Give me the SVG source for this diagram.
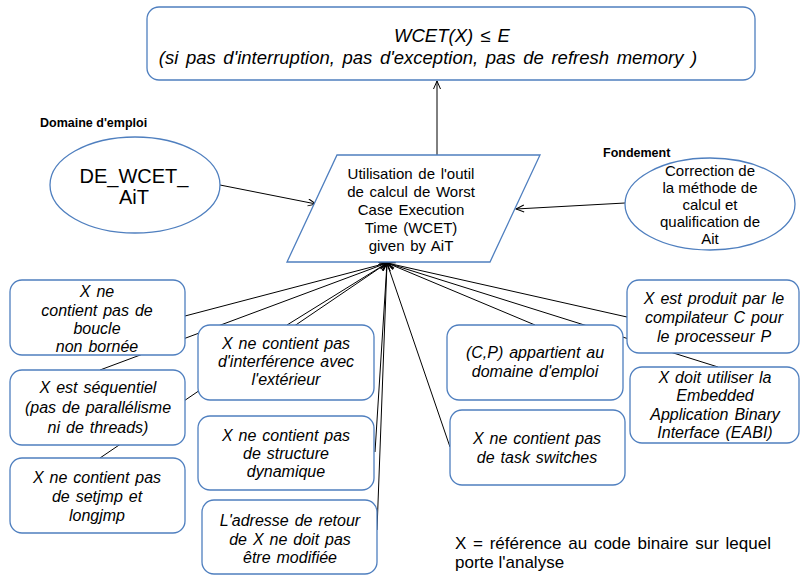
<svg xmlns="http://www.w3.org/2000/svg" width="800" height="575" viewBox="0 0 800 575">
<style>
.box{fill:#fff;stroke:#4f7fbf;stroke-width:1.3}
.t{font-family:"Liberation Sans",Arial,sans-serif;fill:#000}
.it{font-style:italic;font-size:16px;text-anchor:middle;word-spacing:1.5px}
.c{fill:none;stroke:#000;stroke-width:1}
.lbl{font-weight:bold;font-size:12.5px}
</style>
<defs>
<marker id="arr" markerUnits="userSpaceOnUse" markerWidth="12" markerHeight="12" refX="9" refY="4" orient="auto">
<path d="M1,0.5 L9,4 L1,7.5" fill="none" stroke="#000" stroke-width="1"/>
</marker>
</defs>
<rect width="800" height="575" fill="#fff"/>

<g id="connectors">
<line class="c" x1="437" y1="155" x2="437" y2="81" marker-end="url(#arr)"/>
<line class="c" x1="220" y1="185" x2="316" y2="204" marker-end="url(#arr)"/>
<line class="c" x1="625" y1="203" x2="516" y2="209" marker-end="url(#arr)"/>
<line class="c" x1="185" y1="316" x2="387" y2="263" marker-end="url(#arr)"/>
<line class="c" x1="100" y1="370" x2="387" y2="263" marker-end="url(#arr)"/>
<line class="c" x1="100" y1="458" x2="387" y2="263" marker-end="url(#arr)"/>
<line class="c" x1="287" y1="325" x2="387" y2="263" marker-end="url(#arr)"/>
<line class="c" x1="375" y1="452" x2="387" y2="263" marker-end="url(#arr)"/>
<line class="c" x1="377" y1="530" x2="387" y2="263" marker-end="url(#arr)"/>
<line class="c" x1="450" y1="447" x2="387" y2="263" marker-end="url(#arr)"/>
<line class="c" x1="535" y1="325" x2="387" y2="263" marker-end="url(#arr)"/>
<line class="c" x1="627" y1="317" x2="387" y2="263" marker-end="url(#arr)"/>
<line class="c" x1="718" y1="367" x2="387" y2="263" marker-end="url(#arr)"/>
</g>

<g id="top">
<rect class="box" x="147" y="7" width="608" height="73" rx="12"/>
<text class="t" x="452" y="42" font-size="18.5" font-style="italic" text-anchor="middle" word-spacing="2">WCET(X) ≤ E</text>
<text class="t" x="428" y="64" font-size="18.5" font-style="italic" text-anchor="middle" word-spacing="2.5">(si pas d'interruption, pas d'exception, pas de refresh memory )</text>
</g>

<g id="label-domaine">
<text class="t lbl" x="40" y="127">Domaine d'emploi</text>
</g>

<g id="de-wcet">
<ellipse class="box" cx="135" cy="185" rx="85" ry="48"/>
<text class="t" x="134" y="183" font-size="20" text-anchor="middle">DE_WCET_</text>
<text class="t" x="134" y="204" font-size="20" text-anchor="middle">AiT</text>
</g>

<g id="main">
<polygon class="box" points="337,155 540,155 490,262 287,262"/>
<g class="t" font-size="15" text-anchor="middle" word-spacing="1.5">
<text x="411" y="179">Utilisation de l'outil</text>
<text x="411" y="197">de calcul de Worst</text>
<text x="411" y="215">Case Execution</text>
<text x="411" y="233">Time (WCET)</text>
<text x="411" y="251">given by AiT</text>
</g>
</g>

<g id="label-fondement">
<text class="t lbl" x="603" y="157">Fondement</text>
</g>

<g id="correction">
<ellipse class="box" cx="710" cy="204" rx="85" ry="46"/>
<g class="t" font-size="15" text-anchor="middle">
<text x="710" y="176">Correction de</text>
<text x="710" y="193">la méthode de</text>
<text x="710" y="210">calcul et</text>
<text x="710" y="227">qualification de</text>
<text x="710" y="244">Ait</text>
</g>
</g>

<g id="n1">
<rect class="box" x="10" y="280" width="175" height="75" rx="12"/>
<text class="t it" x="97" y="297">X ne</text>
<text class="t it" x="97" y="316">contient pas de</text>
<text class="t it" x="97" y="334">boucle</text>
<text class="t it" x="97" y="352">non bornée</text>
</g>

<g id="n2">
<rect class="box" x="10" y="370" width="175" height="75" rx="12"/>
<text class="t it" x="98" y="393">X est séquentiel</text>
<text class="t it" x="98" y="413">(pas de parallélisme</text>
<text class="t it" x="98" y="433">ni de threads)</text>
</g>

<g id="n3">
<rect class="box" x="10" y="458" width="175" height="75" rx="12"/>
<text class="t it" x="97" y="483">X ne contient pas</text>
<text class="t it" x="97" y="502">de setjmp et</text>
<text class="t it" x="97" y="521">longjmp</text>
</g>

<g id="n4">
<rect class="box" x="198" y="325" width="176" height="75" rx="12"/>
<text class="t it" x="286" y="349">X ne contient pas</text>
<text class="t it" x="286" y="367">d'interférence avec</text>
<text class="t it" x="286" y="385">l'extérieur</text>
</g>

<g id="n5">
<rect class="box" x="198" y="416" width="176" height="74" rx="12"/>
<text class="t it" x="286" y="441">X ne contient pas</text>
<text class="t it" x="286" y="459">de structure</text>
<text class="t it" x="286" y="477">dynamique</text>
</g>

<g id="n6">
<rect class="box" x="202" y="500" width="175" height="74" rx="12"/>
<text class="t it" x="290" y="526">L'adresse de retour</text>
<text class="t it" x="290" y="545">de X ne doit pas</text>
<text class="t it" x="290" y="563">être modifiée</text>
</g>

<g id="n7">
<rect class="box" x="447" y="325" width="176" height="75" rx="12"/>
<text class="t it" x="535" y="358">(C,P) appartient au</text>
<text class="t it" x="535" y="377">domaine d'emploi</text>
</g>

<g id="n8">
<rect class="box" x="450" y="410" width="175" height="75" rx="12"/>
<text class="t it" x="537" y="444">X ne contient pas</text>
<text class="t it" x="537" y="463">de task switches</text>
</g>

<g id="n9">
<rect class="box" x="627" y="280" width="172" height="73" rx="12"/>
<text class="t it" x="714" y="304">X est produit par le</text>
<text class="t it" x="714" y="323">compilateur C pour</text>
<text class="t it" x="714" y="342">le processeur P</text>
</g>

<g id="n10">
<rect class="box" x="630" y="367" width="169" height="76" rx="12"/>
<text class="t it" x="715" y="383">X doit utiliser la</text>
<text class="t it" x="715" y="401">Embedded</text>
<text class="t it" x="715" y="420">Application Binary</text>
<text class="t it" x="715" y="438">Interface (EABI)</text>
</g>

<g id="note">
<text class="t" x="455" y="549" font-size="17" word-spacing="2">X = référence au code binaire sur lequel</text>
<text class="t" x="455" y="568" font-size="17">porte l'analyse</text>
</g>
</svg>
